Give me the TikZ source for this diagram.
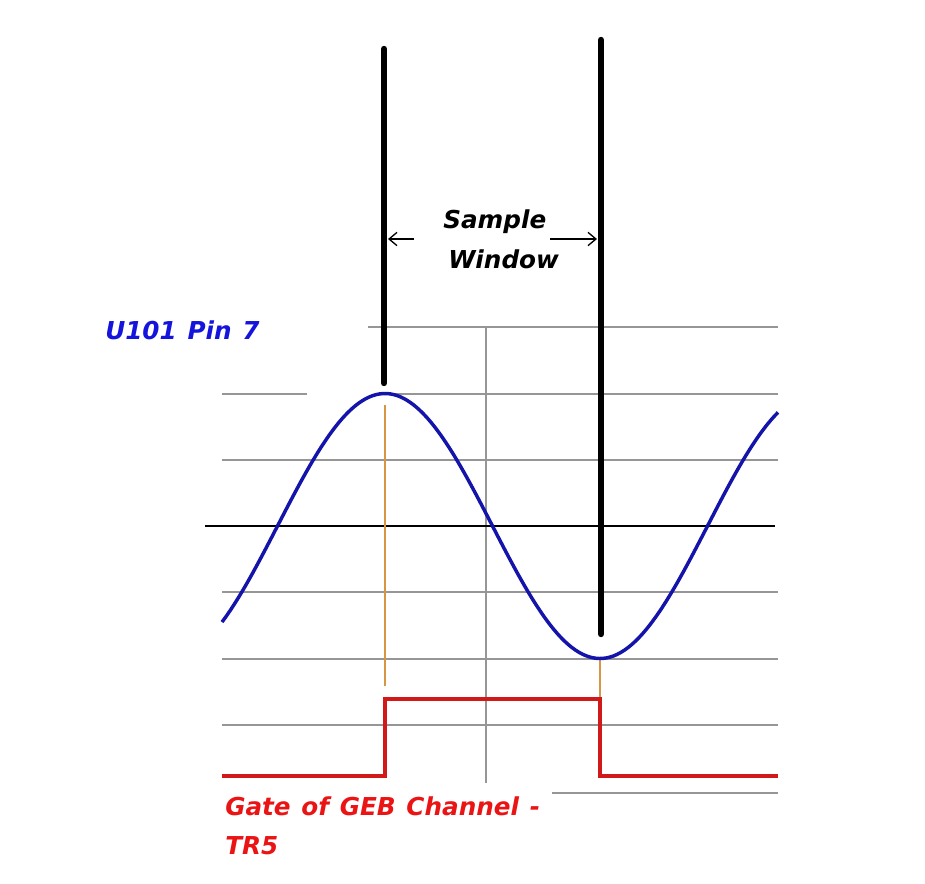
\documentclass[tikz,border=0pt]{standalone}
\usepackage{fontspec}
\setmainfont{DejaVu Sans}[WordSpace={1.25}]
\usetikzlibrary{arrows.meta}
\definecolor{gridgray}{RGB}{150,150,150}
\definecolor{sineblue}{RGB}{20,20,170}
\definecolor{gatered}{RGB}{210,25,25}
\definecolor{mkorange}{RGB}{215,150,70}
\definecolor{lblblue}{RGB}{20,20,220}
\definecolor{lblred}{RGB}{235,20,20}
\begin{document}
\begin{tikzpicture}[x=0.75pt,y=-0.75pt,
  gridline/.style={draw=gridgray,line width=1.1pt},
  axisline/.style={draw=black,line width=1.1pt},
  marker/.style={draw=mkorange,line width=1pt},
  window/.style={draw=black,line width=4.8pt,line cap=round},
  sinewave/.style={draw=sineblue,line width=2.6pt},
  gatewave/.style={draw=gatered,line width=2.3pt},
  dimarrow/.style={draw=black,line width=1pt,-{Straight Barb[length=6pt,width=10pt]}},
  lbl/.style={inner sep=0pt,anchor=base west,font=\fontsize{18.5}{20}\selectfont\bfseries\itshape}]
\useasboundingbox (0,0) rectangle (925,883);
% grid
\draw[gridline] (368,327) -- (778,327);
\draw[gridline] (222,394) -- (307,394);
\draw[gridline] (386,394) -- (778,394);
\draw[gridline] (222,460) -- (778,460);
\draw[gridline] (222,592) -- (778,592);
\draw[gridline] (222,659) -- (778,659);
\draw[gridline] (222,725) -- (778,725);
\draw[gridline] (552,793) -- (778,793);
\draw[gridline] (486,327) -- (486,783);
\draw[axisline] (205,526) -- (775,526);
% orange markers
\draw[marker] (385,405) -- (385,686);
\draw[marker] (600,659) -- (600,697);
% sine
\draw[sinewave] plot[domain=222:778,samples=160,smooth] (\x,{526-132.5*cos((\x-385)/215*180)});
% gate
\coordinate (g0) at (222,776);
\coordinate (g1) at (385,776);
\coordinate (g2) at (385,699);
\coordinate (g3) at (600,699);
\coordinate (g4) at (600,776);
\coordinate (g5) at (778,776);
\draw[gatewave] (g0) -- (g1) -- (g2) -- (g3) -- (g4) -- (g5);
% window bars
\coordinate (wlt) at (384,49);
\coordinate (wlb) at (384,383);
\coordinate (wrt) at (601,40);
\coordinate (wrb) at (601,634);
\draw[window] (wlt) -- (wlb);
\draw[window] (wrt) -- (wrb);
% arrows
\coordinate (al0) at (414,239);
\coordinate (al1) at (388,239);
\coordinate (ar0) at (550,239);
\coordinate (ar1) at (597,239);
\draw[dimarrow] (al0) -- (al1);
\draw[dimarrow] (ar0) -- (ar1);
% labels
\node[lbl] (sample) at (443,228) {Sample};
\node[lbl] (win) at (448,268) {Window};
\node[lbl,text=lblblue] (u101) at (105,339) {U101 Pin 7};
\node[lbl,text=lblred] (gate1) at (225,815) {Gate of GEB Channel -};
\node[lbl,text=lblred] (gate2) at (225,854) {TR5};
\end{tikzpicture}
\end{document}
